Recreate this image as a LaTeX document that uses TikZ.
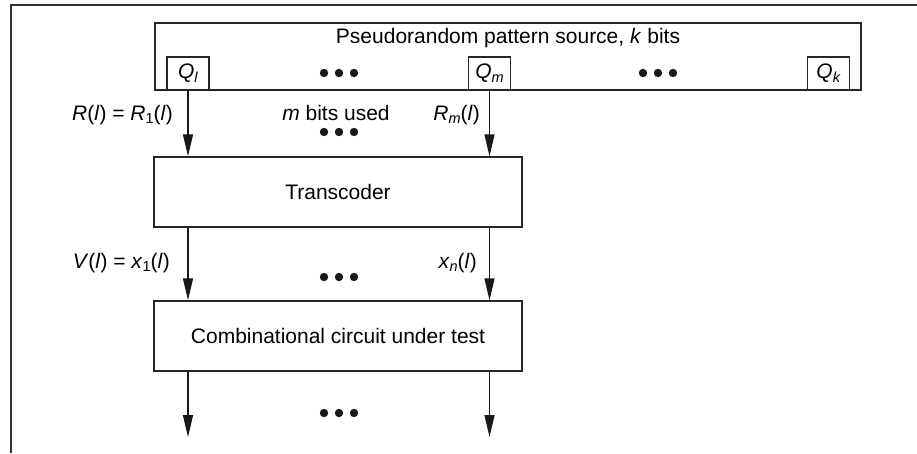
\documentclass[tikz,border=0pt]{standalone}
\usepackage{fontspec}
\setmainfont{Liberation Sans}
\usetikzlibrary{arrows.meta}
\newcommand\lsub[1]{\raisebox{-0.32ex}{\fontsize{14.5}{14.5}\selectfont #1}}
\begin{document}
\begin{tikzpicture}[x=1pt,y=-1pt,
  txt/.style={font=\fontsize{21}{24}\selectfont, inner sep=0pt},
  blk/.style={draw=black!85, line width=1.3pt, fill=white, inner sep=0pt, font=\fontsize{21}{24}\selectfont},
  qbox/.style={draw=black!85, line width=1.3pt, fill=white, inner sep=0pt, minimum width=42pt, minimum height=33pt, font=\fontsize{21}{24}\selectfont},
  arr/.style={draw=black!90, line width=1.3pt, -{Triangle[length=22pt,width=10pt]}},
  dotm/.style={fill=black!90}]
\useasboundingbox (0,0) rectangle (917,453);
% frame
\draw[line width=2pt, black!80] (917,4.7) -- (11,4.7) -- (11,453);
% source
\node[blk, minimum width=706pt, minimum height=67pt] (src) at (508,56.5) {};
\node[txt] (srct) at (508,38) {Pseudorandom pattern source, \textit{k} bits};
\node[qbox] (Ql) at (188,73.5) {\textit{Q}\lsub{\textit{l}}};
\node[qbox] (Qm) at (489.5,73.5) {\textit{Q}\lsub{\textit{m}}};
\node[qbox] (Qk) at (828.5,73.5) {\textit{Q}\lsub{\textit{k}}};
\foreach \x in {-15,0,15} {
  \fill[dotm] (339+\x,73) circle (4.2pt);
  \fill[dotm] (658+\x,73) circle (4.2pt);
  \fill[dotm] (339+\x,132) circle (4.2pt);
  \fill[dotm] (339+\x,277) circle (4.2pt);
  \fill[dotm] (339+\x,413) circle (4.2pt);
}
% blocks
\node[blk, minimum width=368pt, minimum height=70pt] (tc) at (338,192) {Transcoder};
\node[blk, minimum width=368pt, minimum height=70pt] (cut) at (338,336) {Combinational circuit under test};
% labels
\node[txt, anchor=east] (lr1) at (173,115) {\textit{R}(\textit{l}) = \textit{R}\lsub{1}(\textit{l})};
\node[txt] (lm) at (336,113) {\textit{m} bits used};
\node[txt, anchor=east] (lrm) at (480,115) {\textit{R}\lsub{\textit{m}}(\textit{l})};
\node[txt, anchor=east] (lv) at (170,263) {\textit{V}(\textit{l}) = \textit{x}\lsub{1}(\textit{l})};
\node[txt, anchor=east] (lxn) at (477,263) {\textit{x}\lsub{\textit{n}}(\textit{l})};
% arrows
\draw[arr] (Ql.south) -- (Ql.south |- tc.north);
\draw[arr] (Qm.south) -- (Qm.south |- tc.north);
\draw[arr] (Ql.south |- tc.south) -- (Ql.south |- cut.north);
\draw[arr] (Qm.south |- tc.south) -- (Qm.south |- cut.north);
\coordinate (o1) at (188,437);
\coordinate (o2) at (489.5,437);
\draw[arr] (Ql.south |- cut.south) -- (o1);
\draw[arr] (Qm.south |- cut.south) -- (o2);
\end{tikzpicture}
\end{document}
